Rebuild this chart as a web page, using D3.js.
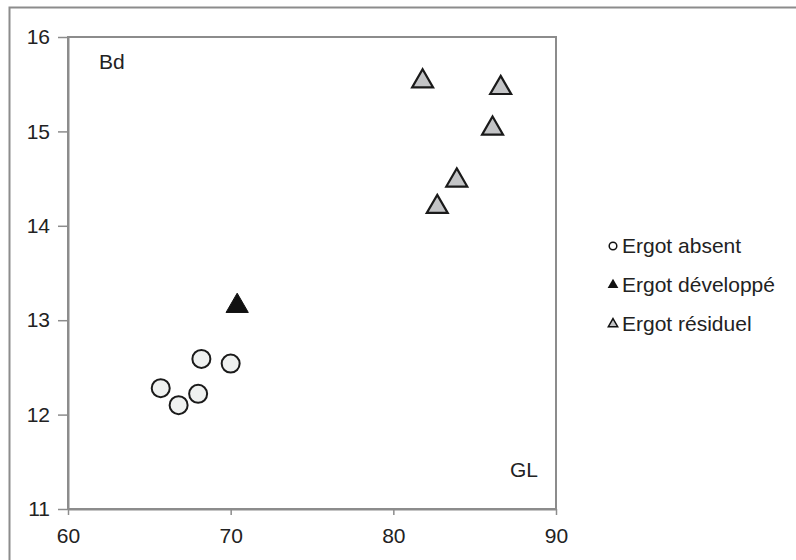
<!DOCTYPE html>
<html><head><meta charset="utf-8">
<script src="https://cdn.jsdelivr.net/npm/d3@7"></script>
<style>body{margin:0;background:#fff}svg{display:block}text{font-family:"Liberation Sans",Arial,sans-serif;fill:#222}</style>
</head><body>
<script>
const absentGL = [65.7, 66.8, 68.0, 68.2, 70.0];
const absentBd = [12.28, 12.10, 12.22, 12.59, 12.54];
const devGL = [70.4];
const devBd = [13.15];
const resGL = [81.8, 86.6, 86.1, 83.9, 82.7];
const resBd = [15.53, 15.46, 15.03, 14.48, 14.20];
const xTicks = [60, 70, 80, 90];
const yTicks = [11, 12, 13, 14, 15, 16];
const legendLabels = ["Ergot absent", "Ergot développé", "Ergot résiduel"];

const W = 796, H = 560;
const FS = 21;
const svg = d3.select("body").append("svg").attr("width", W).attr("height", H);
// outer frame
svg.append("rect").attr("x", 9.5).attr("y", 7.5).attr("width", 800).attr("height", 600)
  .attr("fill", "none").attr("stroke", "#8c8c8c").attr("stroke-width", 2);

const x = d3.scaleLinear().domain([60, 90]).range([68, 556]);
const y = d3.scaleLinear().domain([11, 16]).range([509, 37]);

const g = svg.append("g");
// plot frame
g.append("rect").attr("x", x(60)).attr("y", y(16)).attr("width", x(90) - x(60)).attr("height", y(11) - y(16))
  .attr("fill", "none").attr("stroke", "#8c8c8c").attr("stroke-width", 2);

const xa = g.append("g").attr("transform", `translate(0,${y(11)})`)
  .call(d3.axisBottom(x).tickValues(xTicks).tickFormat(d3.format("d")).tickSize(6).tickSizeOuter(0));
const ya = g.append("g").attr("transform", `translate(${x(60)},0)`)
  .call(d3.axisLeft(y).tickValues(yTicks).tickFormat(d3.format("d")).tickSize(10).tickSizeOuter(0));
[xa, ya].forEach(a => {
  a.attr("font-size", FS).attr("font-family", "Liberation Sans, Arial, sans-serif");
  a.select(".domain").attr("stroke", "#8c8c8c").attr("stroke-width", 2);
  a.selectAll(".tick line").attr("stroke", "#8c8c8c").attr("stroke-width", 1.5);
  a.selectAll(".tick text").attr("font-size", FS).attr("fill", "#222");
});
xa.selectAll(".tick text").attr("y", 0).attr("dy", 34);
ya.selectAll(".tick text").attr("x", -18);

g.append("text").attr("x", 99).attr("y", 69).attr("font-size", FS).text("Bd");
g.append("text").attr("x", 510).attr("y", 477).attr("font-size", FS).text("GL");

const tri = d3.symbol().type(d3.symbolTriangle).size(190);
const absent = absentGL.map((v, i) => [v, absentBd[i]]);
const dev = devGL.map((v, i) => [v, devBd[i]]);
const res = resGL.map((v, i) => [v, resBd[i]]);

g.selectAll(".ab").data(absent).join("circle")
  .attr("cx", d => x(d[0])).attr("cy", d => y(d[1])).attr("r", 9)
  .attr("fill", "#eff1f0").attr("stroke", "#1a1a1a").attr("stroke-width", 2);
g.selectAll(".dv").data(dev).join("path").attr("d", d3.symbol().type(d3.symbolTriangle).size(215))
  .attr("transform", d => `translate(${x(d[0])},${y(d[1])})`)
  .attr("fill", "#111").attr("stroke", "#111").attr("stroke-width", 1);
g.selectAll(".rs").data(res).join("path").attr("d", tri)
  .attr("transform", d => `translate(${x(d[0])},${y(d[1])})`)
  .attr("fill", "#c3c4c6").attr("stroke", "#1a1a1a").attr("stroke-width", 2.2);

// legend
const lg = svg.append("g");
const ly = [246, 285, 324];
lg.append("circle").attr("cx", 613).attr("cy", ly[0]).attr("r", 3.8).attr("fill", "#fff").attr("stroke", "#111").attr("stroke-width", 1.5);
lg.append("path").attr("d", d3.symbol().type(d3.symbolTriangle).size(50)).attr("transform", `translate(613,${ly[1]})`).attr("fill", "#111");
lg.append("path").attr("d", d3.symbol().type(d3.symbolTriangle).size(38)).attr("transform", `translate(613,${ly[2]})`).attr("fill", "#c3c4c6").attr("stroke", "#111").attr("stroke-width", 1.5);
legendLabels.forEach((t, i) => {
  lg.append("text").attr("x", 622).attr("y", ly[i]).attr("dy", "0.35em").attr("font-size", FS).text(t);
});
</script>
</body></html>
